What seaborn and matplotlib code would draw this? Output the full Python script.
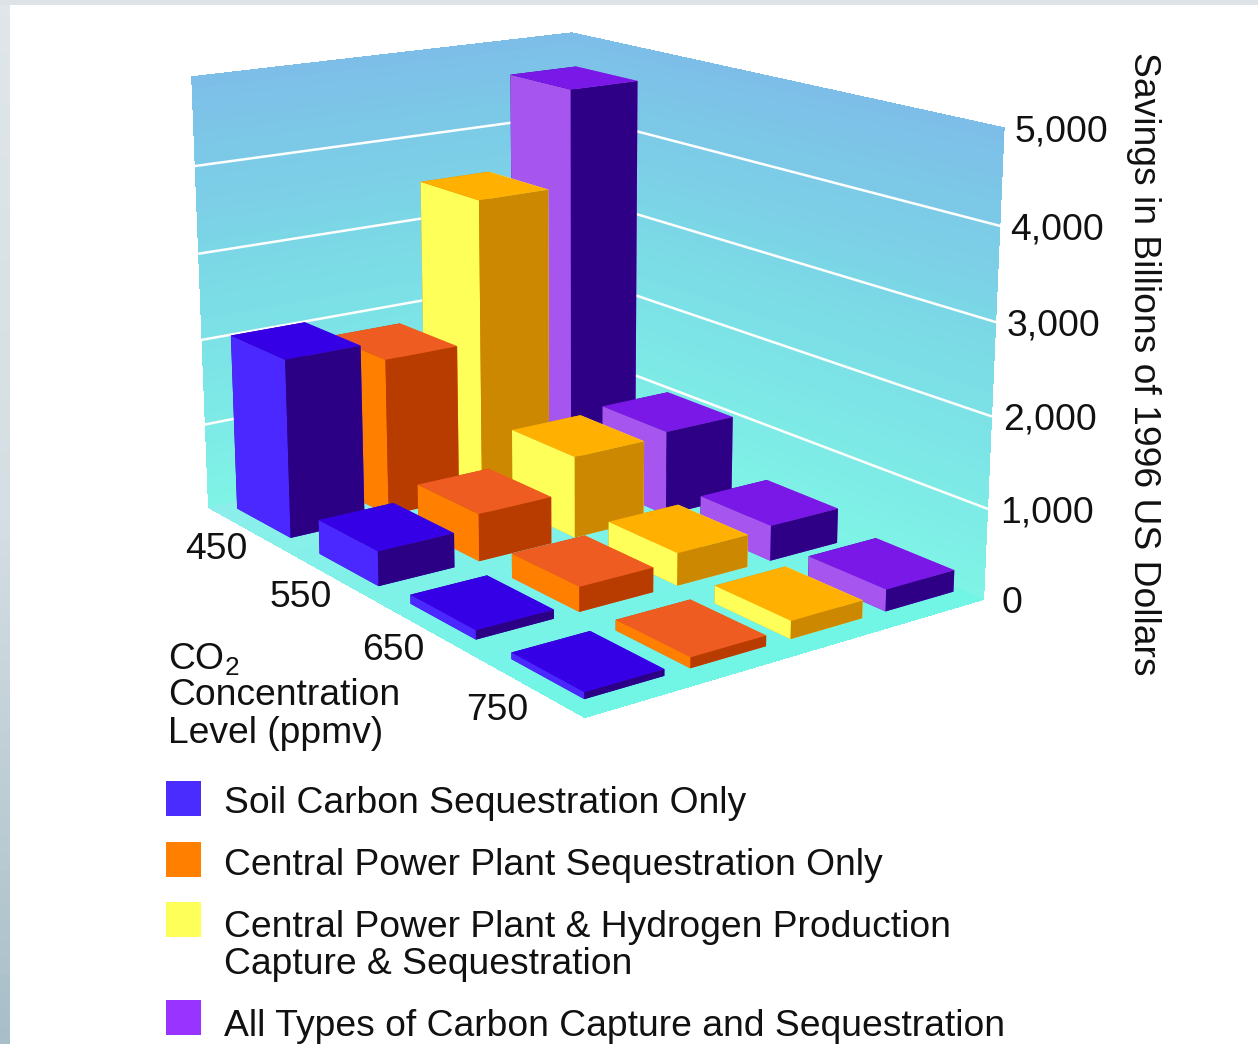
import numpy as np
import matplotlib
matplotlib.use('Agg')
import matplotlib.pyplot as plt
from matplotlib.patches import Rectangle
from mpl_toolkits.mplot3d import proj3d
import seaborn as sns

levels = ['450', '550', '650', '750']
series = ['Soil Carbon Sequestration Only',
          'Central Power Plant Sequestration Only',
          'Central Power Plant & Hydrogen Production\nCapture & Sequestration',
          'All Types of Carbon Capture and Sequestration']
soil = [2060, 390, 100, 70]
central = [1840, 540, 275, 115]
hydrogen = [3500, 940, 365, 195]
all_types = [4630, 990, 400, 240]
z_ticks = [0, 1000, 2000, 3000, 4000, 5000]
z_labels = ['0', '1,000', '2,000', '3,000', '4,000', '5,000']

# colours for front, top and side of each series
front_cols = ['#4a28ff', '#ff8000', '#ffff5a', '#a655ee']
top_cols = ['#3500e6', '#ee5c22', '#ffb000', '#7a18e8']
side_cols = ['#2c0085', '#b83c00', '#cc8800', '#2e0085']
legend_cols = ['#4a2cff', '#ff8000', '#ffff5a', '#9933ff']

W, H = 1258, 1044
sns.set_theme(style='white')
plt.rcParams['font.family'] = ['Liberation Sans', 'DejaVu Sans']
plt.rcParams['mathtext.default'] = 'regular'


def fx(px):
    return px / W


def fy(py):
    return 1 - py / H


fig = plt.figure(figsize=(W / 100, H / 100), dpi=100, facecolor='white')

# slide background showing on the top and left edge
strip = sns.blend_palette(['#e0e6e9', '#d5dee2', '#a8bfc9'], n_colors=60)
bg = fig.add_axes([0, 0, 10 / W, 1])
bg.imshow(np.array(strip)[:, None, :], aspect='auto')
bg.axis('off')
fig.patches.append(Rectangle((0, fy(5)), 1, 5 / H, transform=fig.transFigure,
                             color='#dde3e6', lw=0))

size = 930
cx, cy = 565, 344
ax = fig.add_axes([fx(cx - size / 2), fy(cy + size / 2), size / W, size / H],
                  projection='3d', computed_zorder=False)
ax.patch.set_alpha(0)
ax.set_proj_type('persp', focal_length=0.53)
ax.view_init(elev=15.5, azim=-36)
ax.set_box_aspect((678, 477, 463))

xmin, xmax = -0.45, 3.52
ymin, ymax = -0.57, 3.45
zmax = 5000

# back walls with the blue to cyan fade
n = 40
fade = np.array(sns.blend_palette(['#7dbde8', '#7bdce6', '#7ff3e6'], n_colors=n + 1))[::-1]
zs = np.linspace(0, zmax, n + 1)
Y, Z = np.meshgrid([ymin, ymax], zs)
ax.plot_surface(np.full_like(Y, xmin), Y, Z, facecolors=fade[:, None, :].repeat(2, axis=1),
                rstride=1, cstride=1, shade=False, antialiased=False, linewidth=0, zorder=1)
X, Z = np.meshgrid([xmin, xmax], zs)
ax.plot_surface(X, np.full_like(X, ymax), Z, facecolors=fade[:, None, :].repeat(2, axis=1),
                rstride=1, cstride=1, shade=False, antialiased=False, linewidth=0, zorder=1)

# floor
fl = np.array(sns.blend_palette(['#8ceeea', '#70f6e6'], n_colors=n + 1))
xs = np.linspace(xmin, xmax, n + 1)
X, Y = np.meshgrid(xs, [ymin, ymax])
ax.plot_surface(X, Y, np.zeros_like(X), facecolors=fl[None, :, :].repeat(2, axis=0),
                rstride=1, cstride=1, shade=False, antialiased=False, linewidth=0, zorder=1)

# grid lines on the walls
for z in z_ticks[1:-1]:
    ax.plot([xmin, xmin], [ymin, ymax], [z, z], color='white', lw=1.8, zorder=2)
    ax.plot([xmin, xmax], [ymax, ymax], [z, z], color='white', lw=1.8, zorder=2)

# bars, back ones first
dx, dy = 0.66, 0.75
values = [soil, central, hydrogen, all_types]
order = sorted([(i, j) for i in range(4) for j in range(4)], key=lambda t: t[0] - t[1])
for k, (i, j) in enumerate(order):
    faces = [top_cols[j], top_cols[j], front_cols[j], front_cols[j], side_cols[j], side_cols[j]]
    ax.bar3d(i - dx / 2, j - dy / 2, 0, dx, dy, values[j][i], color=faces,
             shade=False, zorder=3 + k, linewidth=0)

ax.set_xlim(xmin, xmax)
ax.set_ylim(ymin, ymax)
ax.set_zlim(0, zmax)
ax.set_axis_off()


def label3d(x, y, z, txt, off, ha):
    # place a flat label at a projected 3d point
    px, py, _ = proj3d.proj_transform(x, y, z, ax.get_proj())
    ax.annotate(txt, xy=(px, py), xytext=off, textcoords='offset pixels', ha=ha, va='center',
                fontsize=fs, color='#111111', zorder=30, annotation_clip=False)


fs = 26.85
z_pad = [18, 13, 12, 11, 10, 10]
for z, lab, pad in zip(z_ticks, z_labels, z_pad):
    label3d(xmax, ymax, z, lab, (pad, -4), 'left')
for i, lab in enumerate(levels):
    label3d(i + 0.05, -0.87, 0, lab, (-1, -13), 'center')

fig.text(fx(1143), fy(364), 'Savings in Billions of 1996 US Dollars', rotation=270,
         ha='center', va='center', fontsize=fs, color='#111111')

fig.text(fx(168), fy(669), 'CO$_2$', fontsize=fs, color='#111111', va='baseline')
fig.text(fx(168), fy(705), 'Concentration', fontsize=fs, color='#111111', va='baseline')
fig.text(fx(168), fy(743), 'Level (ppmv)', fontsize=fs, color='#111111', va='baseline')

# legend
box_tops = [781, 842, 902, 1000]
baselines = [813, 875, 937, 1036]
for name, col, top, base in zip(series, legend_cols, box_tops, baselines):
    fig.patches.append(Rectangle((fx(166), fy(top + 35)), 35 / W, 35 / H,
                                 transform=fig.transFigure, color=col, lw=0))
    for m, line in enumerate(name.split('\n')):
        fig.text(fx(224), fy(base + 37 * m), line, fontsize=fs, color='#111111', va='baseline')

fig.savefig('out.png', dpi=100)
